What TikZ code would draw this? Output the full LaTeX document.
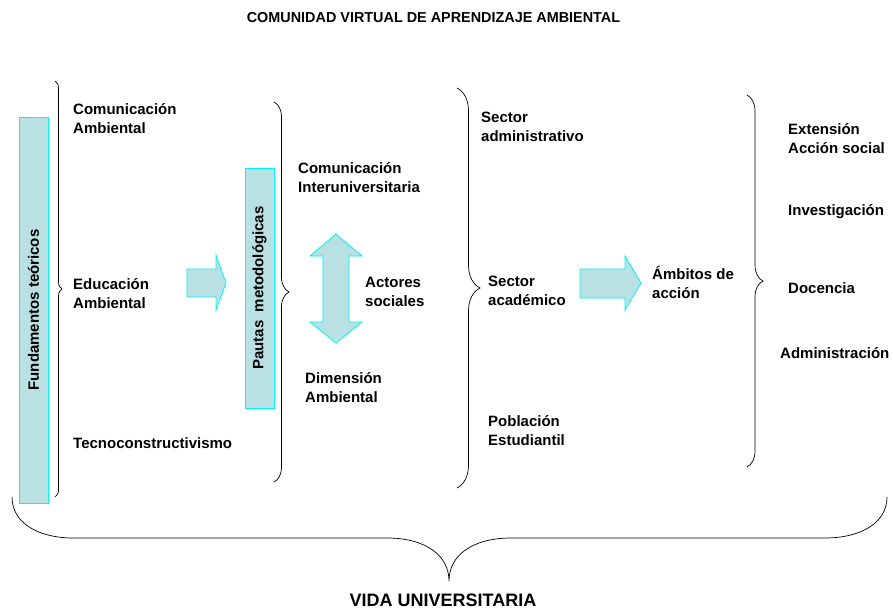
\documentclass[tikz,border=0pt]{standalone}
\usepackage{fontspec}
\setmainfont{Liberation Sans}
\usetikzlibrary{decorations.pathreplacing}
\definecolor{tealfill}{RGB}{185,224,226}
\definecolor{tealline}{RGB}{0,245,245}
\tikzset{
  box/.style={draw=tealline, fill=tealfill, line width=0.8pt, inner sep=0pt},
  lbl/.style={anchor=base west, align=left, inner sep=0pt, font=\bfseries\fontsize{15}{18.5}\selectfont},
  curly/.style={decorate, decoration={brace, amplitude=#1}, line width=0.7pt},
}
\begin{document}
\begin{tikzpicture}[x=1pt, y=-1pt]
\useasboundingbox (0,0) rectangle (893,610);

\node[anchor=base, inner sep=0pt, font=\bfseries\fontsize{14.4}{17}\selectfont] (title) at (433.5,23) {COMUNIDAD VIRTUAL DE APRENDIZAJE AMBIENTAL};

\node[box, rotate=90, minimum width=386pt, minimum height=29pt, font=\bfseries\fontsize{15}{18}\selectfont] (fund) at (33.5,310) {Fundamentos teóricos};
\draw[curly=7pt] (55,81) -- (55,497);
\node[lbl] (comamb) at (73,133) {Comunicación\\Ambiental};
\node[lbl] (eduamb) at (73,308) {Educación\\Ambiental};
\node[lbl] (tecno) at (73,448) {Tecnoconstructivismo};

\draw[box] (187,269) -- (216,269) -- (216,255) -- (226,283) -- (216,310) -- (216,297) -- (187,297) -- cycle;

\node[box, rotate=90, minimum width=240pt, minimum height=29pt, font=\bfseries\fontsize{15}{18}\selectfont] (pautas) at (259.5,288) {Pautas~ metodológicas};
\draw[curly=15pt] (274,102) -- (274,482);
\node[lbl] (comint) at (298,192) {Comunicación\\Interuniversitaria};
\draw[box] (336,234) -- (362,256) -- (349,256) -- (349,322) -- (362,322) -- (336,343) -- (310,322) -- (323,322) -- (323,256) -- (310,256) -- cycle;
\node[lbl] (actores) at (365,306) {Actores\\sociales};
\node[lbl] (dimamb) at (305,402) {Dimensión\\Ambiental};

\draw[curly=23pt] (457,88) -- (457,488);
\node[lbl] (secadm) at (481,141) {Sector\\administrativo};
\node[lbl] (secaca) at (488,305) {Sector\\académico};
\node[lbl] (poblac) at (488,445) {Población\\Estudiantil};

\draw[box] (580,269) -- (625,269) -- (625,256) -- (641,283) -- (625,310) -- (625,298) -- (580,298) -- cycle;
\node[lbl] (ambitos) at (652,298) {Ámbitos de\\acción};

\draw[curly=16pt] (747,95) -- (747,467);
\node[lbl] (extension) at (788,153) {Extensión\\Acción social};
\node[lbl] (investig) at (788,215) {Investigación};
\node[lbl] (docencia) at (788,293) {Docencia};
\node[lbl] (admin) at (780,358) {Administración};

\draw[line width=0.7pt] (12,497) .. controls (12,524) and (40,538) .. (73,538) -- (387,538)
  .. controls (425,538) and (449,555) .. (449,581) .. controls (449,555) and (473,538) .. (511,538)
  -- (825,538) .. controls (859,538) and (887,524) .. (887,497);
\node[anchor=base, inner sep=0pt, font=\bfseries\fontsize{18}{20}\selectfont] (vida) at (443,606) {VIDA UNIVERSITARIA};
\end{tikzpicture}
\end{document}
